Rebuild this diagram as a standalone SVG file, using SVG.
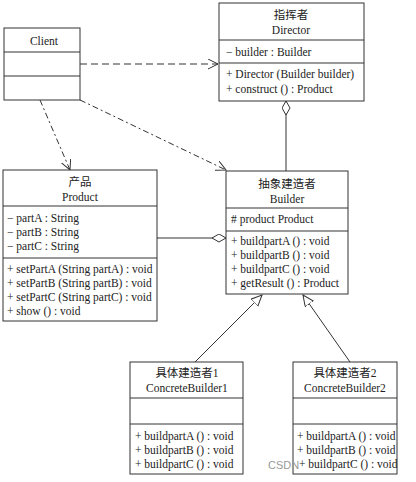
<svg xmlns="http://www.w3.org/2000/svg" width="416" height="482" viewBox="0 0 416 482">
<defs>
<style>
.box{fill:#fff;stroke:#333;stroke-width:1}
.ln{stroke:#333;stroke-width:1;fill:none}
text{font-family:"Liberation Serif","Noto Sans CJK SC",serif;font-size:11.5px;fill:#222}
.c{text-anchor:middle}
.dash{stroke:#333;stroke-width:1;fill:none;stroke-dasharray:7 4}
.dd{stroke:#333;stroke-width:1;fill:none;stroke-dasharray:6 3 2 3}
.wm{fill:#999;font-family:"Liberation Sans",sans-serif;font-size:11px}
</style>
<marker id="open" markerWidth="12" markerHeight="12" refX="10" refY="5" orient="auto" markerUnits="userSpaceOnUse"><path d="M0,0 L10,5 L0,10" fill="none" stroke="#333"/></marker>
<marker id="tri" markerWidth="14" markerHeight="14" refX="11" refY="5" orient="auto" markerUnits="userSpaceOnUse"><path d="M0,0 L11,5 L0,10 Z" fill="#fff" stroke="#333"/></marker>
<marker id="dia" markerWidth="16" markerHeight="10" refX="14" refY="4" orient="auto" markerUnits="userSpaceOnUse"><path d="M0,4 L7,0 L14,4 L7,8 Z" fill="#fff" stroke="#333"/></marker>
</defs>
<g id="connectors">
<line class="dash" x1="80" y1="64" x2="218" y2="64" marker-end="url(#open)"/>
<line class="dd" x1="40" y1="100" x2="70" y2="170" marker-end="url(#open)"/>
<line class="dd" x1="80" y1="100" x2="226" y2="170" marker-end="url(#open)"/>
<line class="ln" x1="286" y1="171" x2="286" y2="101" marker-end="url(#dia)"/>
<line class="ln" x1="157" y1="238" x2="226" y2="238" marker-end="url(#dia)"/>
<line class="ln" x1="195" y1="362" x2="262" y2="295" marker-end="url(#tri)"/>
<line class="ln" x1="350" y1="362" x2="303" y2="295" marker-end="url(#tri)"/>
</g>
<g id="client">
<rect class="box" x="4" y="28" width="76" height="72"/>
<line class="ln" x1="4" y1="52" x2="80" y2="52"/>
<line class="ln" x1="4" y1="76" x2="80" y2="76"/>
<text class="c" x="44" y="45">Client</text>
</g>
<g id="director">
<rect class="box" x="219" y="3" width="145" height="98"/>
<line class="ln" x1="219" y1="40" x2="364" y2="40"/>
<line class="ln" x1="219" y1="63" x2="364" y2="63"/>
<text class="c" x="291" y="19">指挥者</text>
<text class="c" x="291" y="34">Director</text>
<text x="226" y="56">− builder : Builder</text>
<text x="226" y="78">+ Director (Builder builder)</text>
<text x="226" y="93">+ construct () : Product</text>
</g>
<g id="product">
<rect class="box" x="3" y="170" width="154" height="151"/>
<line class="ln" x1="3" y1="206" x2="157" y2="206"/>
<line class="ln" x1="3" y1="258" x2="157" y2="258"/>
<text class="c" x="80" y="186">产品</text>
<text class="c" x="80" y="201">Product</text>
<text x="7" y="222">− partA : String</text>
<text x="7" y="236">− partB : String</text>
<text x="7" y="250">− partC : String</text>
<text x="7" y="273">+ setPartA (String partA) : void</text>
<text x="7" y="287">+ setPartB (String partB) : void</text>
<text x="7" y="301">+ setPartC (String partC) : void</text>
<text x="7" y="315">+ show () : void</text>
</g>
<g id="builder">
<rect class="box" x="226" y="171" width="122" height="123"/>
<line class="ln" x1="226" y1="208" x2="348" y2="208"/>
<line class="ln" x1="226" y1="231" x2="348" y2="231"/>
<text class="c" x="287" y="188">抽象建造者</text>
<text class="c" x="287" y="203">Builder</text>
<text x="231" y="223"># product Product</text>
<text x="231" y="245">+ buildpartA () : void</text>
<text x="231" y="259">+ buildpartB () : void</text>
<text x="231" y="273">+ buildpartC () : void</text>
<text x="231" y="287">+ getResult () : Product</text>
</g>
<g id="concrete1">
<rect class="box" x="130" y="362" width="113" height="112"/>
<line class="ln" x1="130" y1="398" x2="243" y2="398"/>
<line class="ln" x1="130" y1="424" x2="243" y2="424"/>
<text class="c" x="187" y="377">具体建造者1</text>
<text class="c" x="187" y="392">ConcreteBuilder1</text>
<text x="135" y="440">+ buildpartA () : void</text>
<text x="135" y="454">+ buildpartB () : void</text>
<text x="135" y="468">+ buildpartC () : void</text>
</g>
<g id="concrete2">
<rect class="box" x="293" y="362" width="104" height="112"/>
<line class="ln" x1="293" y1="398" x2="397" y2="398"/>
<line class="ln" x1="293" y1="424" x2="397" y2="424"/>
<text class="c" x="345" y="377">具体建造者2</text>
<text class="c" x="345" y="392">ConcreteBuilder2</text>
<text x="297" y="440">+ buildpartA () : void</text>
<text x="297" y="454">+ buildpartB () : void</text>
<text x="299" y="468">+ buildpartC () : void</text>
</g>
<text class="wm" x="268" y="469">CSDN</text>
</svg>
